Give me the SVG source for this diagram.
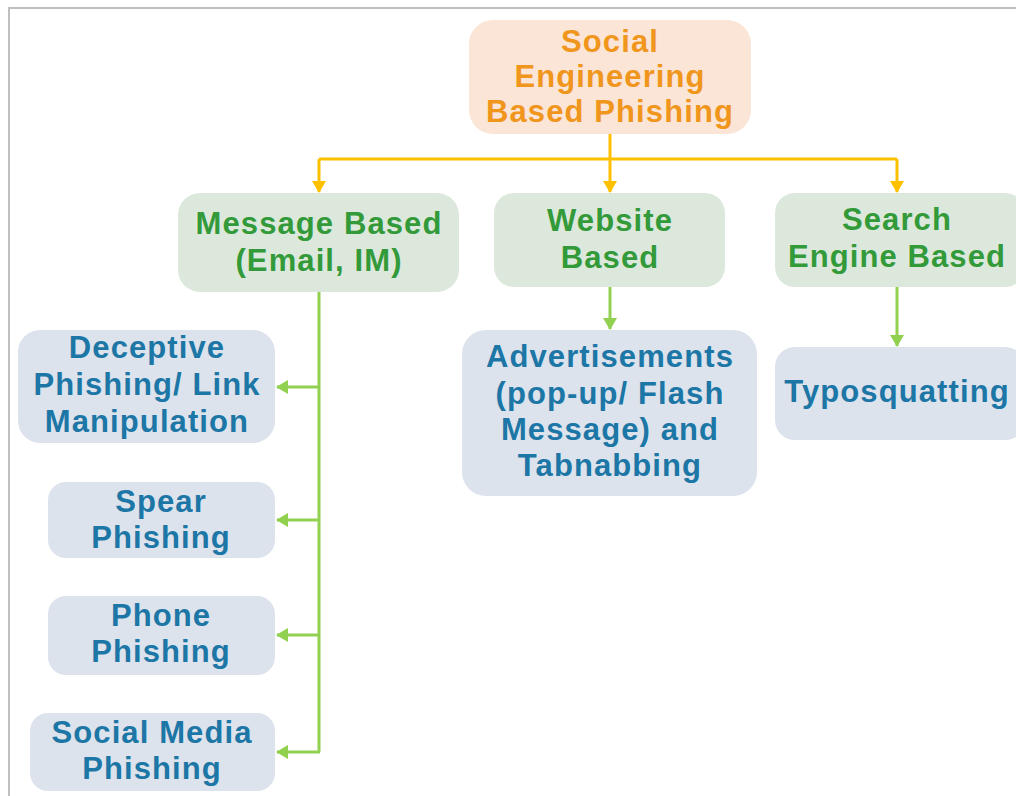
<svg xmlns="http://www.w3.org/2000/svg" width="1016" height="796" viewBox="0 0 1016 796">
  <style>
    text { font-family: "Liberation Sans", Arial, sans-serif; font-weight: bold; font-size: 31px; letter-spacing: 1.1px; text-anchor: middle; }
    .root rect { fill: #fbe5d6; }
    .root text { fill: #f0961c; }
    .cat rect { fill: #dde8dd; }
    .cat text { fill: #339a3a; }
    .leaf rect { fill: #dce3ec; }
    .leaf text { fill: #1c76a6; }
    .yl { fill: none; stroke: #ffc000; stroke-width: 3; }
    .gl { fill: none; stroke: #92d050; stroke-width: 3; }
  </style>
  <defs>
    <marker id="arrY" viewBox="0 0 12 14" refX="11" refY="7" markerUnits="userSpaceOnUse" markerWidth="12" markerHeight="14" orient="auto">
      <path d="M0,0 L12,7 L0,14 Z" fill="#ffc000"/>
    </marker>
    <marker id="arrG" viewBox="0 0 12 14" refX="11" refY="7" markerUnits="userSpaceOnUse" markerWidth="12" markerHeight="14" orient="auto">
      <path d="M0,0 L12,7 L0,14 Z" fill="#92d050"/>
    </marker>
  </defs>

  <rect width="1016" height="796" fill="#ffffff"/>
  <!-- frame -->
  <path d="M9,796 V8 H1016" fill="none" stroke="#bfbfbf" stroke-width="2"/>

  <!-- connectors -->
  <g id="connectors">
    <path class="yl" d="M610,133 V159"/>
    <path class="yl" d="M319,159 H897"/>
    <path class="yl" d="M319,159 V192" marker-end="url(#arrY)"/>
    <path class="yl" d="M610,159 V192" marker-end="url(#arrY)"/>
    <path class="yl" d="M897,159 V192" marker-end="url(#arrY)"/>

    <path class="gl" d="M319,292 V752"/>
    <path class="gl" d="M319,387 H277" marker-end="url(#arrG)"/>
    <path class="gl" d="M319,520 H277" marker-end="url(#arrG)"/>
    <path class="gl" d="M319,635 H277" marker-end="url(#arrG)"/>
    <path class="gl" d="M320,752 H277" marker-end="url(#arrG)"/>

    <path class="gl" d="M610,287 V329" marker-end="url(#arrG)"/>
    <path class="gl" d="M897,287 V346" marker-end="url(#arrG)"/>
  </g>

  <!-- root -->
  <g id="social-engineering" class="root">
    <rect x="469" y="20" width="282" height="114" rx="24"/>
    <text x="610" y="52">Social</text>
    <text x="610" y="87">Engineering</text>
    <text x="610" y="122">Based Phishing</text>
  </g>

  <!-- categories -->
  <g id="message-based" class="cat">
    <rect x="178" y="193" width="281" height="99" rx="22"/>
    <text x="319" y="234">Message Based</text>
    <text x="319" y="271">(Email, IM)</text>
  </g>
  <g id="website-based" class="cat">
    <rect x="494" y="193" width="231" height="94" rx="20"/>
    <text x="610" y="231">Website</text>
    <text x="610" y="268">Based</text>
  </g>
  <g id="search-engine-based" class="cat">
    <rect x="775" y="193" width="250" height="94" rx="20"/>
    <text x="897" y="230">Search</text>
    <text x="897" y="267">Engine Based</text>
  </g>

  <!-- leaves -->
  <g id="deceptive-phishing" class="leaf">
    <rect x="18" y="330" width="257" height="113" rx="22"/>
    <text x="147" y="358">Deceptive</text>
    <text x="147" y="395">Phishing/ Link</text>
    <text x="147" y="432">Manipulation</text>
  </g>
  <g id="spear-phishing" class="leaf">
    <rect x="48" y="482" width="227" height="76" rx="18"/>
    <text x="161" y="512">Spear</text>
    <text x="161" y="548">Phishing</text>
  </g>
  <g id="phone-phishing" class="leaf">
    <rect x="48" y="596" width="227" height="79" rx="18"/>
    <text x="161" y="626">Phone</text>
    <text x="161" y="662">Phishing</text>
  </g>
  <g id="social-media-phishing" class="leaf">
    <rect x="30" y="713" width="245" height="78" rx="18"/>
    <text x="152" y="743">Social Media</text>
    <text x="152" y="779">Phishing</text>
  </g>
  <g id="advertisements" class="leaf">
    <rect x="462" y="330" width="295" height="166" rx="24"/>
    <text x="610" y="367">Advertisements</text>
    <text x="610" y="404">(pop-up/ Flash</text>
    <text x="610" y="440">Message) and</text>
    <text x="610" y="476">Tabnabbing</text>
  </g>
  <g id="typosquatting" class="leaf">
    <rect x="775" y="347" width="250" height="93" rx="20"/>
    <text x="897" y="402">Typosquatting</text>
  </g>
</svg>
